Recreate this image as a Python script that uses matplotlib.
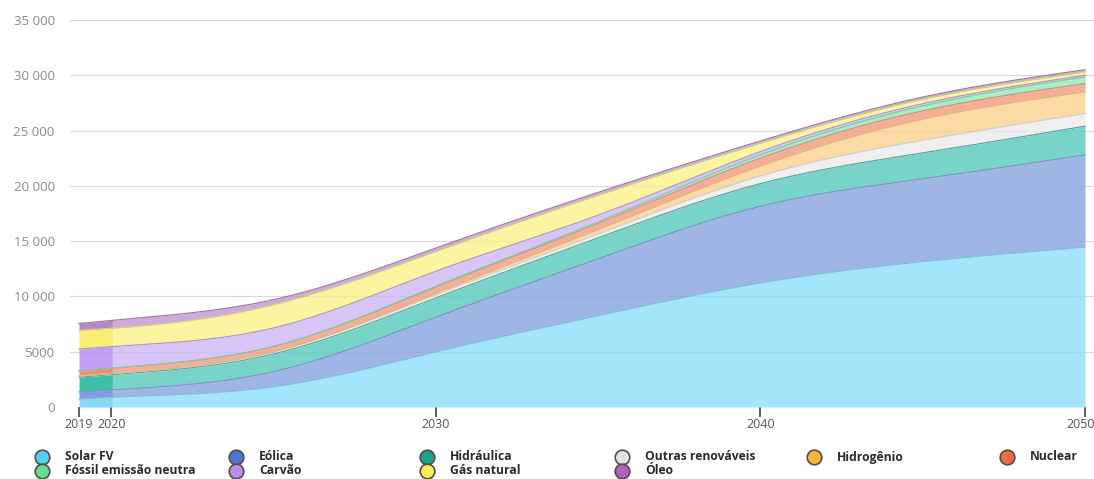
import numpy as np
import matplotlib
matplotlib.use("Agg")
import matplotlib.pyplot as plt
from matplotlib.lines import Line2D
from matplotlib.ticker import FuncFormatter
from matplotlib.transforms import ScaledTranslation

plt.rcParams['font.family'] = ['Open Sans', 'DejaVu Sans']

# Installed capacity by source (GW)
years = [2019, 2020, 2025, 2030, 2035, 2040, 2045, 2050]
solar_fv = [720, 880, 1840, 5000, 8270, 11230, 13160, 14470]
eolica = [630, 660, 1360, 3120, 5130, 6920, 7470, 8330]
hidraulica = [1350, 1380, 1600, 1750, 1900, 2050, 2350, 2600]
outras_renovaveis = [100, 110, 200, 280, 350, 700, 1150, 1150]
hidrogenio = [0, 0, 0, 150, 400, 900, 1900, 1950]
nuclear = [450, 470, 480, 550, 550, 700, 750, 750]
fossil_neutra = [0, 0, 0, 80, 150, 300, 450, 600]
carvao = [2000, 1960, 1670, 1350, 600, 300, 200, 150]
gas_natural = [1700, 1670, 2110, 1800, 1810, 760, 400, 300]
oleo = [600, 700, 450, 300, 250, 200, 200, 200]

series = [
    ("Solar FV", solar_fv),
    ("Eólica", eolica),
    ("Hidráulica", hidraulica),
    ("Outras renováveis", outras_renovaveis),
    ("Hidrogênio", hidrogenio),
    ("Nuclear", nuclear),
    ("Fóssil emissão neutra", fossil_neutra),
    ("Carvão", carvao),
    ("Gás natural", gas_natural),
    ("Óleo", oleo),
]

# area colours: (historical, projection, boundary line, legend marker)
styles = {
    "Solar FV": ("#86daf6", "#a3e5fa", "#7fbfd6", "#4fd0f4"),
    "Eólica": ("#7f9de0", "#9fb5e6", "#7f93c0", "#4a78d2"),
    "Hidráulica": ("#3fbfaa", "#78d4c8", "#5aa89c", "#17a58d"),
    "Outras renováveis": ("#e4e4e4", "#efefef", "#cfcfcf", "#e2e2e2"),
    "Hidrogênio": ("#f9c978", "#fcdaa3", "#d9b985", "#f4b53e"),
    "Nuclear": ("#f38a6c", "#f8ad96", "#d58e7a", "#f06a44"),
    "Fóssil emissão neutra": ("#7fe6a8", "#a6eec4", "#86c9a0", "#5fe08c"),
    "Carvão": ("#c3a0f5", "#d8c5f7", "#ab99c8", "#b98cf0"),
    "Gás natural": ("#f8ef70", "#fbf5a2", "#d3cc8a", "#f7ee5c"),
    "Óleo": ("#b386c8", "#cfaadb", "#9c7f9c", "#b25fc2"),
}


def natural_spline(x, y, xs):
    """Natural cubic spline through (x, y), evaluated at xs."""
    x = np.asarray(x, float)
    y = np.asarray(y, float)
    n = len(x)
    h = np.diff(x)
    A = np.zeros((n, n))
    r = np.zeros(n)
    A[0, 0] = A[-1, -1] = 1.0
    for i in range(1, n - 1):
        A[i, i - 1] = h[i - 1]
        A[i, i] = 2 * (h[i - 1] + h[i])
        A[i, i + 1] = h[i]
        r[i] = 3 * ((y[i + 1] - y[i]) / h[i] - (y[i] - y[i - 1]) / h[i - 1])
    c = np.linalg.solve(A, r)
    b = (y[1:] - y[:-1]) / h - h * (2 * c[:-1] + c[1:]) / 3
    d = (c[1:] - c[:-1]) / (3 * h)
    idx = np.clip(np.searchsorted(x, xs) - 1, 0, n - 2)
    t = xs - x[idx]
    return y[idx] + b[idx] * t + c[idx] * t**2 + d[idx] * t**3


fig = plt.figure(figsize=(10.94, 4.79), dpi=100)
ax = fig.add_axes([70 / 1094, 72 / 479, 1024 / 1094, 387 / 479])

xs = np.linspace(years[0], years[-1], 1600)
hist = xs <= 2020.03
proj = xs >= 2020

base = np.zeros_like(xs)
cum = np.zeros(len(years))
for name, vals in series:
    cum = cum + np.asarray(vals, float)
    top = natural_spline(years, cum, xs)
    top = np.maximum(top, base)
    c_hist, c_proj, c_line, _ = styles[name]
    ax.fill_between(xs[proj], base[proj], top[proj], color=c_proj, lw=0, zorder=2)
    ax.fill_between(xs[hist], base[hist], top[hist], color=c_hist, lw=0, zorder=2)
    ax.plot(xs, top, color=c_line, lw=0.9, zorder=3)
    base = top

# grid lines, faintly visible through the areas
for yv in range(5000, 35001, 5000):
    ax.axhline(yv, color="#e4e4e4", lw=0.9, zorder=1)
    ax.axhline(yv, color="#6a7a8a", lw=0.6, alpha=0.10, zorder=4)

ax.set_xlim(2019 - 9 / 32.45, 2050 + 9 / 32.45)
ax.set_ylim(0, 35000)
ax.set_yticks(range(0, 35001, 5000))
ax.set_xticks([2019, 2020, 2030, 2040, 2050])


def fmt(v, _):
    v = int(round(v))
    if v >= 10000:
        return f"{v:,}".replace(",", " ")
    return str(v)


ax.yaxis.set_major_formatter(FuncFormatter(fmt))
ax.tick_params(axis="y", length=0, pad=11, labelsize=9.5, labelcolor="#8a8a8a")
ax.tick_params(axis="x", length=7, width=1.1, color="#333333", pad=1,
               labelsize=9, labelcolor="#555555")
for s in ax.spines.values():
    s.set_visible(False)

# keep the last year label inside the figure
last = ax.get_xticklabels()[-1]
last.set_horizontalalignment("right")
last.set_transform(last.get_transform()
                   + ScaledTranslation(10 / 100, 0, fig.dpi_scale_trans))

# legend laid out in six columns, two rows
col_x = [42, 236, 427, 622, 814, 1007]
row_y = [457, 471]
for i, (name, _) in enumerate(series):
    col = i if i < 6 else i - 6
    row = 0 if i < 6 else 1
    mx = col_x[col] / 1094
    my = 1 - row_y[row] / 479
    fig.add_artist(Line2D([mx], [my], marker="o", markersize=10.5,
                          markerfacecolor=styles[name][3],
                          markeredgecolor="#5a4a44", markeredgewidth=1.2,
                          transform=fig.transFigure, linestyle="none"))
    fig.text(mx + 23 / 1094, my, name, fontsize=8.7, fontweight="bold",
             color="#2a2a2a", va="center", ha="left")

fig.savefig("out.png", dpi=100)
